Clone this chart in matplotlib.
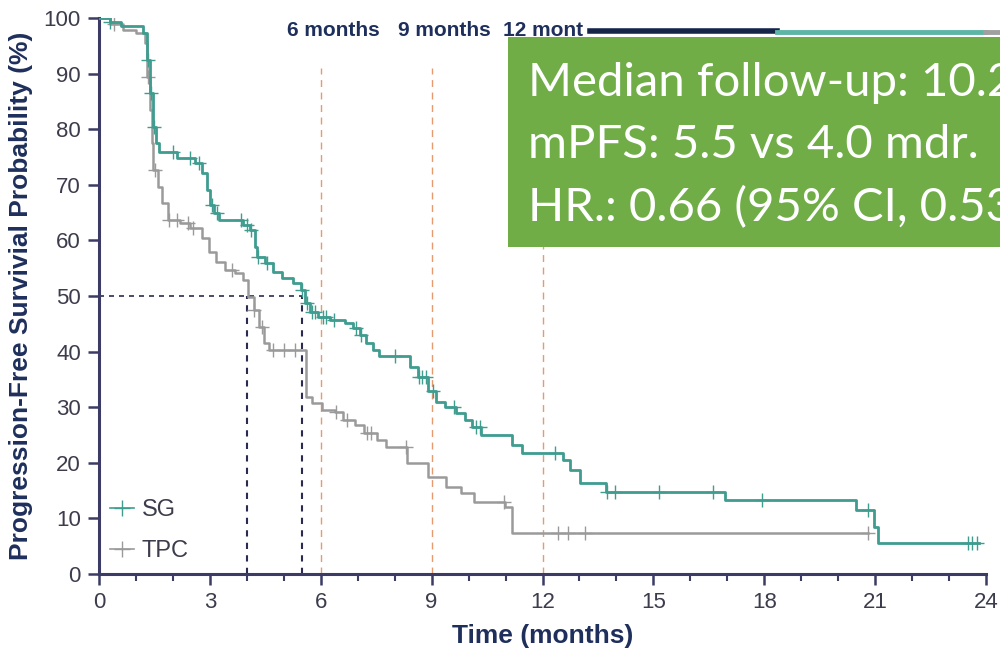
import matplotlib
matplotlib.use("Agg")
import matplotlib.pyplot as plt
from matplotlib.lines import Line2D
from matplotlib.patches import Rectangle
import matplotlib.font_manager as fm

# ---- Kaplan-Meier estimates (time in months, PFS in %) ----
sg_time = [0, 0.3, 0.6, 1.19, 1.30, 1.38, 1.46, 1.55, 1.62, 2.11, 2.60, 2.79, 2.92,
           3.00, 3.10, 3.25, 3.90, 4.09, 4.22, 4.27, 4.49, 4.71, 4.95, 5.25, 5.47,
           5.57, 5.71, 5.93, 6.25, 6.66, 6.87, 7.06, 7.22, 7.41, 7.58, 8.41, 8.63,
           8.90, 9.12, 9.36, 9.66, 9.90, 10.09, 10.34, 11.17, 11.44, 12.55, 12.74,
           13.01, 13.72, 16.94, 20.48, 20.97, 21.08, 23.8]
sg_pfs = [100, 99.3, 98.6, 97.3, 92.4, 86.5, 80.4, 77.5, 75.9, 74.8, 73.9, 72.1, 69.0,
          66.4, 64.9, 63.7, 62.8, 61.9, 58.8, 57.0, 55.9, 54.3, 53.2, 52.3, 51.1,
          48.7, 47.1, 46.2, 45.7, 45.1, 44.2, 43.0, 41.5, 40.3, 39.2, 37.2, 35.4,
          33.0, 31.0, 30.0, 29.0, 27.7, 26.4, 25.0, 23.2, 21.8, 20.5, 18.7,
          16.4, 14.7, 13.3, 11.5, 8.5, 5.6, 5.6]

tpc_time = [0, 0.3, 0.65, 1.0, 1.24, 1.30, 1.38, 1.43, 1.46, 1.60, 1.70, 1.87, 2.19,
            2.46, 2.79, 2.98, 3.17, 3.41, 3.68, 3.90, 4.03, 4.19, 4.33, 4.46, 4.60,
            5.60, 5.76, 6.03, 6.39, 6.60, 6.93, 7.17, 7.52, 7.77, 8.33, 8.90, 9.39,
            9.79, 10.15, 10.98, 11.17, 20.8]
tpc_pfs = [100, 99.0, 97.8, 97.3, 95.5, 89.4, 83.5, 77.5, 72.7, 69.6, 66.7, 63.7, 63.1,
           62.2, 60.4, 57.9, 56.1, 54.7, 54.1, 52.9, 49.8, 47.5, 44.4, 41.5, 40.3,
           31.8, 30.7, 29.5, 29.1, 27.7, 26.8, 25.4, 24.1, 22.8, 20.0, 17.5, 15.6,
           14.5, 13.0, 12.0, 7.4, 7.4]

# censoring times
sg_cens = [0.3, 1.32, 1.4, 1.48, 2.0, 2.45, 2.7, 3.05, 3.2, 3.85, 4.0, 4.12, 4.3,
           4.55, 5.5, 5.62, 5.75, 5.85, 6.05, 6.15, 6.35, 6.95, 7.1, 8.0, 8.65,
           8.75, 8.85, 9.05, 9.6, 10.2, 10.3, 12.34, 13.74, 13.96, 15.15, 16.6,
           17.94, 20.8, 23.5, 23.62, 23.75]
tpc_cens = [0.4, 1.33, 1.52, 1.9, 2.1, 2.4, 2.55, 3.6, 4.2, 4.4, 4.7, 5.0, 5.3,
            6.4, 6.7, 7.25, 7.35, 8.3, 10.95, 12.42, 12.7, 13.15, 20.8]

medians = {"SG": 5.5, "TPC": 4.0}
landmarks = [6, 9, 12]
landmark_labels = ["6 months", "9 months", "12 months"]
x_ticks = [0, 3, 6, 9, 12, 15, 18, 21, 24]
y_ticks = list(range(0, 101, 10))

box_lines = ["Median follow-up: 10.2 mdr.",
             "mPFS: 5.5 vs 4.0 mdr.",
             "HR.: 0.66 (95% CI, 0.53-0.83)"]

SG_COL = "#3f9c8f"
TPC_COL = "#9a9a9a"
AX_COL = "#3b3b66"
NAVY = "#1f2f5c"

names = {f.name for f in fm.fontManager.ttflist}
NARROW = "Liberation Sans Narrow" if "Liberation Sans Narrow" in names else "Liberation Sans"


def step_value(times, vals, t):
    v = vals[0]
    for ti, vi in zip(times, vals):
        if ti <= t:
            v = vi
        else:
            break
    return v


W, H = 1000, 660
fig = plt.figure(figsize=(W / 100, H / 100), dpi=100)
x0, x1, yb, yt = 99, 986, 574, 18
ax = fig.add_axes([x0 / W, (H - yb) / H, (x1 - x0) / W, (yb - yt) / H])

ax.set_xlim(0, 24)
ax.set_ylim(0, 100)

# landmark lines
for lm in landmarks:
    ax.plot([lm, lm], [0, 91], color="#e59a70", lw=1.0, ls=(0, (5, 4)), zorder=1)

# median lines
med_sg = medians["SG"]
med_tpc = medians["TPC"]
ax.plot([0, med_sg], [50, 50], color="#2b2b50", lw=1.2, ls=(0, (3, 3)), zorder=1)
ax.plot([med_sg, med_sg], [0, 50], color="#2b2b50", lw=1.5, ls=(0, (3, 3)), zorder=1)
ax.plot([med_tpc, med_tpc], [0, 50], color="#2b2b50", lw=1.5, ls=(0, (3, 3)), zorder=1)

# survival curves
ax.step(tpc_time, tpc_pfs, where="post", color=TPC_COL, lw=1.8, zorder=2)
ax.step(sg_time, sg_pfs, where="post", color=SG_COL, lw=2.0, zorder=3)
ax.plot(tpc_cens, [step_value(tpc_time, tpc_pfs, t) for t in tpc_cens], ls="none",
        marker="+", ms=10, mew=1.0, color=TPC_COL, zorder=2)
ax.plot(sg_cens, [step_value(sg_time, sg_pfs, t) for t in sg_cens], ls="none",
        marker="+", ms=10, mew=1.0, color=SG_COL, zorder=3)

# axes styling
for s in ["top", "right"]:
    ax.spines[s].set_visible(False)
for s in ["left", "bottom"]:
    ax.spines[s].set_color(AX_COL)
    ax.spines[s].set_linewidth(2.2)
ax.set_xticks(x_ticks)
ax.set_xticks(range(0, 25), minor=True)
ax.set_yticks(y_ticks)
ax.tick_params(axis="both", which="major", direction="out", length=8, width=1.8,
               color=AX_COL, labelcolor="#3c3c4c", labelsize=16, pad=5)
ax.tick_params(axis="x", which="minor", direction="out", length=5, width=1.5, color=AX_COL)
for lab in ax.get_xticklabels() + ax.get_yticklabels():
    lab.set_fontfamily(NARROW)

ax.set_xlabel("Time (months)", fontsize=19, fontweight="bold", color=NAVY,
              family=NARROW, labelpad=8)
ax.set_ylabel("Progression-Free Survivial Probability (%)", fontsize=19,
              fontweight="bold", color=NAVY, family=NARROW, labelpad=8)

# legend
handles = [Line2D([], [], color=SG_COL, lw=1.2, marker="+", ms=12, mew=1.0),
           Line2D([], [], color=TPC_COL, lw=1.2, marker="+", ms=12, mew=1.0)]
leg = ax.legend(handles, ["SG", "TPC"], loc="lower left", bbox_to_anchor=(0.012, 0.022),
                frameon=False, handlelength=1.05, handletextpad=0.3, labelspacing=0.8,
                borderpad=0, borderaxespad=0,
                prop={"family": NARROW, "size": 17})
for t in leg.get_texts():
    t.set_color("#3c3c4c")

# landmark headers
hdr_y = 97.8
for lm, txt in zip(landmarks, landmark_labels):
    t = ax.text(lm + 0.35, hdr_y, txt, ha="center", va="center", fontsize=15,
                fontweight="bold", color=NAVY, family=NARROW, clip_on=False, zorder=4)
    if lm == 12:
        clip = Rectangle((0, 0), 583, H, transform=None)
        t.set_clip_path(clip)
        t.set_clip_on(True)

# header bar
fig.add_artist(Line2D([590 / W, 777 / W], [(H - 31) / H] * 2, color="#15254a", lw=4))
fig.add_artist(Line2D([777 / W, 985 / W], [(H - 32) / H] * 2, color="#5cb5a5", lw=3.5))
fig.add_artist(Line2D([985 / W, 1.0], [(H - 32) / H] * 2, color="#a0a0a0", lw=3.5))

# summary box
fig.patches.append(Rectangle((508 / W, (H - 247) / H), 1.0, 210 / H,
                             transform=fig.transFigure, facecolor="#70ad47",
                             edgecolor="none", zorder=5))
for i, line in enumerate(box_lines):
    fig.text(528 / W, (H - (96 + 62.5 * i)) / H, line, fontsize=34, color="white",
             family="Lato", va="baseline", ha="left", zorder=6)

fig.savefig("out.png", dpi=100)
